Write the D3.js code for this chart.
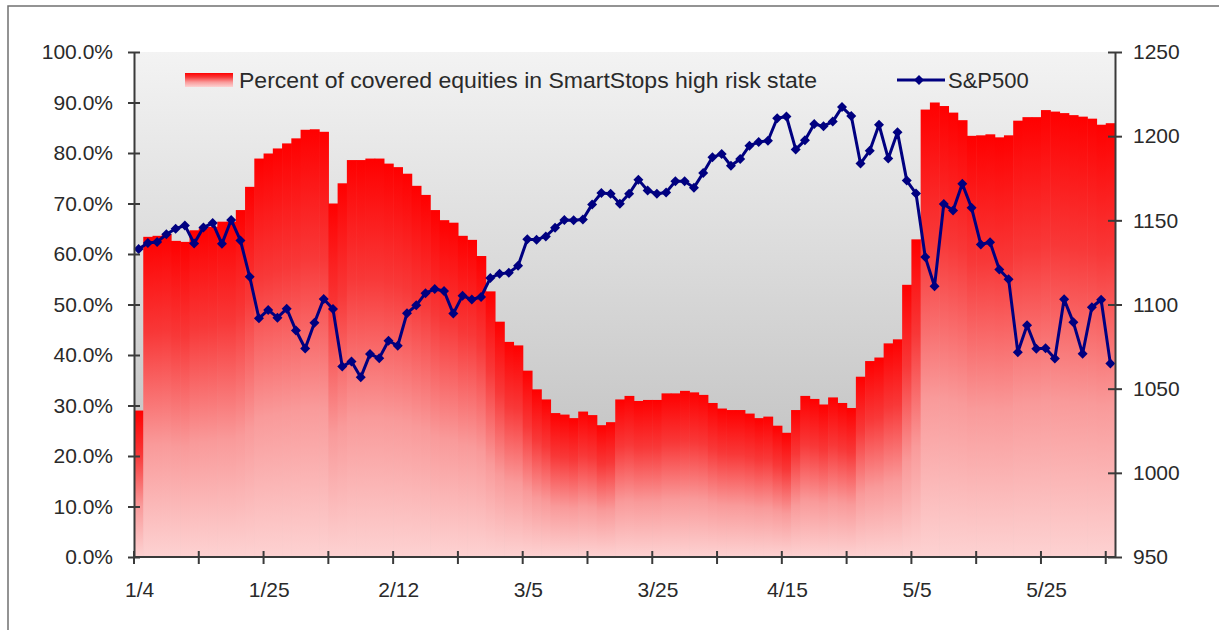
<!DOCTYPE html>
<html>
<head>
<meta charset="utf-8">
<script src="https://cdn.jsdelivr.net/npm/d3@7"></script>
<style>
  body { margin: 0; background: #fff; }
  svg { display: block; font-family: "Liberation Sans", Arial, sans-serif; }
</style>
</head>
<body>
<div id="chart"></div>
<script>
// Trading days, Jan 4 - Jun 4
const dates = [
  "1/4","1/5","1/6","1/7","1/8","1/11","1/12","1/13","1/14","1/15","1/19","1/20","1/21","1/22","1/25","1/26","1/27","1/28","1/29",
  "2/1","2/2","2/3","2/4","2/5","2/8","2/9","2/10","2/11","2/12","2/16","2/17","2/18","2/19","2/22","2/23","2/24","2/25","2/26",
  "3/1","3/2","3/3","3/4","3/5","3/8","3/9","3/10","3/11","3/12","3/15","3/16","3/17","3/18","3/19","3/22","3/23","3/24","3/25","3/26","3/29","3/30","3/31",
  "4/1","4/5","4/6","4/7","4/8","4/9","4/12","4/13","4/14","4/15","4/16","4/19","4/20","4/21","4/22","4/23","4/26","4/27","4/28","4/29","4/30",
  "5/3","5/4","5/5","5/6","5/7","5/10","5/11","5/12","5/13","5/14","5/17","5/18","5/19","5/20","5/21","5/24","5/25","5/26","5/27","5/28",
  "6/1","6/2","6/3","6/4"
];

// Percent of covered equities in high risk state
const highRisk = [
  29.0,63.4,63.6,64.0,62.6,62.4,64.7,65.1,65.4,66.4,66.4,68.7,73.3,78.9,79.9,80.9,81.9,82.9,84.6,
  84.7,84.2,70.0,74.0,78.6,78.6,78.9,78.9,77.9,77.2,75.9,73.5,71.7,68.7,66.7,66.2,63.6,62.8,59.6,
  52.6,46.6,42.6,41.9,36.9,33.2,31.2,28.5,28.2,27.5,28.8,28.1,26.1,26.7,31.2,31.9,30.9,31.1,31.1,32.4,32.4,32.9,32.6,
  32.1,30.5,29.4,29.1,29.1,28.4,27.5,27.8,26.0,24.6,29.1,31.9,31.3,30.2,31.6,30.5,29.5,35.7,38.8,39.5,42.3,
  43.1,53.9,62.9,88.6,90.0,89.3,88.0,86.5,83.4,83.5,83.7,83.1,83.5,86.4,87.1,87.1,88.5,88.2,87.9,87.5,
  87.2,86.8,85.6,85.9
];

// S&P500 close
const spx = [
  1132.99,1136.52,1137.14,1141.69,1144.98,1146.98,1136.22,1145.68,1148.46,1136.03,1150.23,1138.04,1116.48,1091.76,1096.78,1092.17,1097.50,1084.53,1073.87,
  1089.19,1103.32,1097.28,1063.11,1066.19,1056.74,1070.52,1068.13,1078.47,1075.51,1094.87,1099.51,1106.75,1109.17,1108.01,1094.60,1105.24,1102.94,1104.49,
  1115.71,1118.31,1118.79,1122.97,1138.70,1138.50,1140.45,1145.61,1150.24,1149.99,1150.51,1159.46,1166.21,1165.83,1159.90,1165.81,1174.17,1167.72,1165.73,1166.59,1173.22,1173.27,1169.43,
  1178.10,1187.44,1189.44,1182.45,1186.44,1194.37,1196.48,1197.30,1210.65,1211.67,1192.13,1197.52,1207.17,1205.94,1208.67,1217.28,1212.05,1183.71,1191.36,1206.78,1186.69,
  1202.26,1173.60,1165.90,1128.15,1110.88,1159.73,1155.79,1171.67,1157.44,1135.68,1136.94,1120.80,1115.05,1071.59,1087.69,1073.65,1074.03,1067.95,1103.06,1089.41,
  1070.71,1098.38,1102.83,1064.88
];

const pctTicks = [0, 10, 20, 30, 40, 50, 60, 70, 80, 90, 100];
const spxTicks = [950, 1000, 1050, 1100, 1150, 1200, 1250];
const seriesNames = ["Percent of covered equities in SmartStops high risk state", "S&P500"];

const W = 1219, H = 630;
const plot = { left: 134, right: 1115, top: 52, bottom: 557 };
const lineColor = "#000080";
const textColor = "#2a2a2a";
const axisColor = "#3a3a3a";

const svg = d3.select("#chart").append("svg")
  .attr("width", W)
  .attr("height", H);

const defs = svg.append("defs");

// plot background gradient
const bg = defs.append("linearGradient")
  .attr("id", "bgGrad")
  .attr("x1", 0).attr("y1", 0).attr("x2", 0).attr("y2", 1);
bg.append("stop").attr("offset", "0%").attr("stop-color", "#f3f3f3");
bg.append("stop").attr("offset", "100%").attr("stop-color", "#b8b8b8");

// bar gradient, per bar
const bar = defs.append("linearGradient")
  .attr("id", "barGrad")
  .attr("x1", 0).attr("y1", 0).attr("x2", 0).attr("y2", 1);
bar.append("stop").attr("offset", "0%").attr("stop-color", "#ff0000");
bar.append("stop").attr("offset", "30%").attr("stop-color", "#f83838");
bar.append("stop").attr("offset", "65%").attr("stop-color", "#f99a9a");
bar.append("stop").attr("offset", "100%").attr("stop-color", "#fdd2d2");

// outer frame
svg.append("rect")
  .attr("x", 8).attr("y", 6)
  .attr("width", W).attr("height", H)
  .attr("fill", "#fff")
  .attr("stroke", "#707070")
  .attr("stroke-width", 1.5);

// Scales
const x = d3.scaleBand()
  .domain(dates)
  .range([plot.left, plot.right])
  .padding(0);

const yL = d3.scaleLinear().domain([0, 100]).range([plot.bottom, plot.top]);
const yR = d3.scaleLinear().domain([950, 1250]).range([plot.bottom, plot.top]);

// plot area
svg.append("rect")
  .attr("x", plot.left).attr("y", plot.top)
  .attr("width", plot.right - plot.left)
  .attr("height", plot.bottom - plot.top)
  .attr("fill", "url(#bgGrad)");

// bars
svg.append("g")
  .selectAll("rect")
  .data(highRisk)
  .join("rect")
  .attr("x", (d, i) => x(dates[i]))
  .attr("y", d => yL(d))
  .attr("width", x.bandwidth() + 0.6)
  .attr("height", d => yL(0) - yL(d))
  .attr("fill", "url(#barGrad)");

// S&P line
const line = d3.line()
  .x((d, i) => x(dates[i]) + x.bandwidth() / 2)
  .y(d => yR(d));

svg.append("path")
  .datum(spx)
  .attr("d", line)
  .attr("fill", "none")
  .attr("stroke", lineColor)
  .attr("stroke-width", 3)
  .attr("stroke-linejoin", "round");

const diamond = r => `M0,${-r}L${r},0L0,${r}L${-r},0Z`;

svg.append("g")
  .selectAll("path")
  .data(spx)
  .join("path")
  .attr("transform", (d, i) => `translate(${x(dates[i]) + x.bandwidth() / 2},${yR(d)})`)
  .attr("d", diamond(5))
  .attr("fill", lineColor);

// Left axis
const gL = svg.append("g")
  .attr("transform", `translate(${plot.left},0)`)
  .call(d3.axisLeft(yL)
    .tickValues(pctTicks)
    .tickFormat(d => d.toFixed(1) + "%")
    .tickSizeInner(6)
    .tickSizeOuter(0)
    .tickPadding(15));
gL.selectAll(".tick line").attr("x1", 6);

// Right axis
const gR = svg.append("g")
  .attr("transform", `translate(${plot.right},0)`)
  .call(d3.axisRight(yR)
    .tickValues(spxTicks)
    .tickFormat(d3.format("d"))
    .tickSizeInner(7)
    .tickSizeOuter(0)
    .tickPadding(11));
gR.selectAll(".tick line").attr("x1", -7);

// Bottom axis: ticks every 7 days, labels every 14
const gB = svg.append("g");
gB.append("line")
  .attr("x1", plot.left).attr("x2", plot.right)
  .attr("y1", plot.bottom).attr("y2", plot.bottom);
gB.selectAll("line.tk")
  .data(dates.filter((d, i) => i % 7 === 0))
  .join("line")
  .attr("class", "tk")
  .attr("x1", d => x(d)).attr("x2", d => x(d))
  .attr("y1", plot.bottom - 6).attr("y2", plot.bottom + 7);
gB.selectAll("text")
  .data(dates.filter((d, i) => i % 14 === 0))
  .join("text")
  .attr("x", d => x(d) + x.bandwidth() / 2 + 1)
  .attr("y", 597)
  .attr("text-anchor", "middle")
  .text(d => d);

[gL, gR].forEach(g => {
  g.select(".domain").attr("stroke", axisColor).attr("stroke-width", 2);
  g.selectAll(".tick line").attr("stroke", axisColor).attr("stroke-width", 2);
});
gB.selectAll("line").attr("stroke", axisColor).attr("stroke-width", 2);

svg.selectAll("text")
  .attr("font-size", "21px")
  .attr("fill", textColor)
  .attr("font-family", "'Liberation Sans', Arial, sans-serif");

// Legend
const legend = svg.append("g");
legend.append("rect")
  .attr("x", 185).attr("y", 73)
  .attr("width", 48).attr("height", 14)
  .attr("fill", "url(#barGrad)");
legend.append("text")
  .attr("x", 239).attr("y", 88)
  .attr("font-size", "22px")
  .attr("fill", textColor)
  .attr("textLength", 578)
  .attr("lengthAdjust", "spacingAndGlyphs")
  .text(seriesNames[0]);

legend.append("line")
  .attr("x1", 897).attr("x2", 945)
  .attr("y1", 80).attr("y2", 80)
  .attr("stroke", lineColor)
  .attr("stroke-width", 3);
legend.append("path")
  .attr("transform", "translate(919,80)")
  .attr("d", diamond(5))
  .attr("fill", lineColor);
legend.append("text")
  .attr("x", 948).attr("y", 88)
  .attr("font-size", "22px")
  .attr("fill", textColor)
  .text(seriesNames[1]);
</script>
</body>
</html>
